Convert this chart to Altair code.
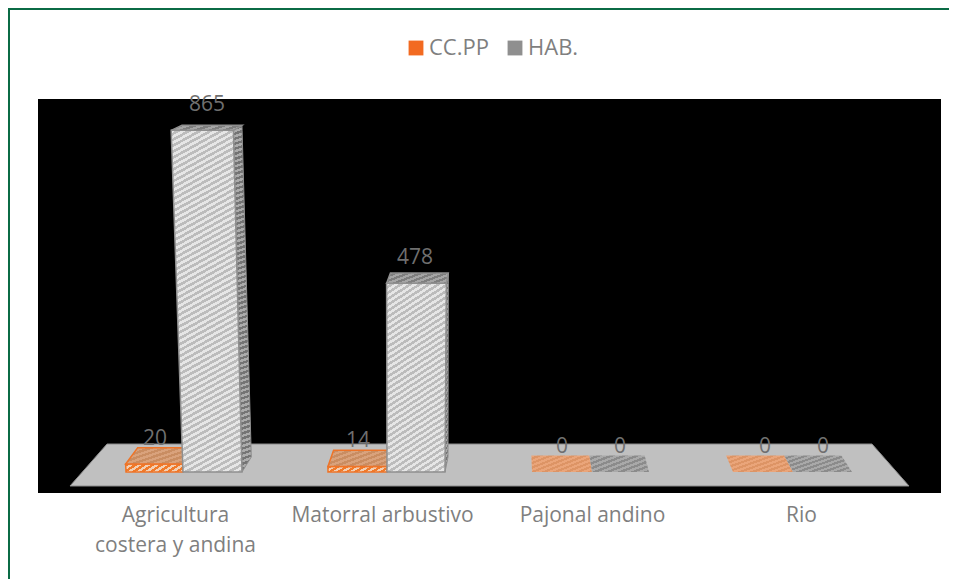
import json
import altair as alt

# ---- chart values ----
categories = ["Agricultura costera y andina", "Matorral arbustivo", "Pajonal andino", "Rio"]
category_lines = [["Agricultura", "costera y andina"], ["Matorral arbustivo"], ["Pajonal andino"], ["Rio"]]
series_names = ["CC.PP", "HAB."]
cc_pp = [20, 14, 0, 0]
hab = [865, 478, 0, 0]

# ---- look of the fake 3-D scene ----
W, H = 903, 394
PAD = dict(left=30, top=91, right=8, bottom=86)
PX_PER_UNIT = 0.395
BASE_PX = 373                # floor line of the bars, from the top of the plot
Y_DOMAIN = [(BASE_PX - H) / PX_PER_UNIT, BASE_PX / PX_PER_UNIT]
slot_edges = [(88, 145, 204), (290, 349, 407), (494, 554, 611), (695, 755, 814)]
tick_x = [137, 344, 554, 763]
label_x = [(117, 169), (320, 377), (524, 582), (727, 785)]
GREY_TEXT = "#7f7f7f"
FRAME = "#0b6b45"

def units(px):
    return px / PX_PER_UNIT

def lean(x, v):
    return (x - 362) * v * 6.3e-5

def depth_px(v):
    return max(4.0, 16.5 - 0.0133 * v)

def back_shift(x):
    return (472 - x) * 0.031

def hatch(c1, c2, w, h, period=6.0, slope=0.6):
    s = slope * w / max(h, 1)
    g = (s + 1) / (s * s + 1)
    n = min(int((s + 1) * h / period) + 1, 150)
    n = max(n, 2)
    stops = []
    for i in range(n):
        a, b = i / n, (i + 0.5) / n
        c = (i + 1) / n
        stops += [dict(color=c1, offset=a), dict(color=c1, offset=b),
                  dict(color=c2, offset=b), dict(color=c2, offset=c)]
    return dict(gradient="linear", x1=0, y1=0, x2=round(s * g, 4), y2=round(g, 4), stops=stops)

def slice_polygon(pts):
    ys = sorted({p[1] for p in pts})
    rows = []
    n = len(pts)
    for y in ys:
        xs = []
        for i in range(n):
            (x0, y0), (x1, y1) = pts[i], pts[(i + 1) % n]
            if y0 == y1:
                if y == y0:
                    xs += [x0, x1]
            elif min(y0, y1) <= y <= max(y0, y1):
                xs.append(x0 + (x1 - x0) * (y - y0) / (y1 - y0))
        rows.append(dict(x=min(xs), x2=max(xs), y=y))
    return rows

x_scale = alt.Scale(domain=[0, W], range=[0, W], nice=False, zero=False)
y_scale = alt.Scale(domain=Y_DOMAIN, nice=False, zero=False)

axis = alt.Axis(values=tick_x, labelExpr="%s[indexof(%s, datum.value)]" % (json.dumps(category_lines), json.dumps(tick_x)),
                domain=False, ticks=False, grid=False, labelFont="Open Sans", labelFontSize=21,
                labelColor=GREY_TEXT, labelAngle=0, labelPadding=11, labelLineHeight=30, labelLimit=400,
                labelOverlap=False, labelFlush=False, labelBound=False, labelAlign="center", labelBaseline="top",
                title=None)

def face(pts, fill, stroke=None, sw=1.0):
    rows = slice_polygon(pts)
    props = dict(orient="horizontal", fill=fill, opacity=1, clip=False)
    if stroke:
        props.update(stroke=stroke, strokeWidth=sw)
    return alt.Chart(alt.Data(values=rows)).mark_area(**props).encode(
        x=alt.X("x:Q", scale=x_scale, axis=axis),
        x2="x2:Q",
        y=alt.Y("y:Q", scale=y_scale, axis=None, title=None, sort=None),
    )

def box(xl, xr, v, front, top, side=None, edge="#8f8f8f", sw=1.5):
    """faces of one bar of value v whose front foot runs from xl to xr"""
    layers = []
    tl, tr = xl + lean(xl, v), xr + lean(xr, v)
    d = units(depth_px(v))
    bl, br = tl + back_shift(tl), tr + back_shift(tr)
    w = max(xr - xl, 1)
    if side is not None and v > 0:
        b0 = xr + back_shift(xr)
        layers.append(face([(tr, v), (br, v + d), (b0 + 1, units(15)), (xr, 0)],
                           hatch(side[0], side[1], 12, v * PX_PER_UNIT, 5, 0.5), edge, 1))
    if v > 0:
        layers.append(face([(xl, 0), (tl, v), (tr, v), (xr, 0)],
                           hatch(front[0], front[1], w + 12, max(v * PX_PER_UNIT, 6), 6, 0.55),
                           edge, sw))
    layers.append(face([(tl, v), (bl, v + d), (br, v + d), (tr, v)],
                       hatch(top[0], top[1], w, depth_px(v), 5, 0.4), edge if v > 0 else None, sw))
    return layers

layers = []

# floor, carrying the category axis
layers.append(face([(32, units(-14)), (69, units(28)), (834, units(28)), (871, units(-14))],
                   "#c0c0c0", "#8a8a8a", 1))

orange = ("#d9a27c", "#c98d62")
orange_front = ("#f07a2a", "#f3cfb3")
flat_orange = ("#eaa57a", "#dd9465")
flat_grey = ("#a9a9a9", "#8b8b8b")
white = ("#e6e6e6", "#bcbcbc")
top_grey = ("#a5a5a5", "#7e7e7e")
side_grey = ("#ababab", "#747474")

for i in range(len(categories)):
    a, m, b = slot_edges[i]
    if cc_pp[i] > 0:
        layers += box(a, m, cc_pp[i], orange_front, orange, edge="#ee7428", sw=1.5)
    else:
        layers += box(a, m, 0, orange, flat_orange)
    if hab[i] > 0:
        layers += box(m, b, hab[i], white, top_grey, side_grey)
    else:
        layers += box(m, b, 0, flat_grey, flat_grey)

# data labels and legend, from the same arrays
rows = []
for i in range(len(categories)):
    rows.append(dict(lx=label_x[i][0], value=cc_pp[i], series=series_names[0]))
    rows.append(dict(lx=label_x[i][1], value=hab[i], series=series_names[1]))
labels = alt.Chart(alt.Data(values=rows))
layers.append(labels.mark_text(font="Open Sans", fontSize=21, color="#6f6f6f", dy=-25, baseline="middle", align="center").encode(
    x=alt.X("lx:Q", scale=x_scale, axis=axis),
    y=alt.Y("value:Q", scale=y_scale, axis=None),
    text="value:Q",
))
layers.append(labels.mark_square(opacity=0, size=1).encode(
    x=alt.X("lx:Q", scale=x_scale, axis=axis),
    y=alt.Y("value:Q", scale=y_scale, axis=None),
    color=alt.Color("series:N", scale=alt.Scale(domain=series_names, range=["#f26a21", "#8f8f8f"]),
                    legend=alt.Legend(orient="none", legendX=367, legendY=-62, direction="horizontal", title=None,
                                      symbolType="square", symbolSize=220, symbolOpacity=1, symbolStrokeWidth=0,
                                      labelFont="Open Sans", labelFontSize=22, labelColor=GREY_TEXT,
                                      labelOffset=2, columnPadding=15)),
))

# outer frame
layers.append(alt.Chart(alt.Data(values=[{"f": 1}])).mark_rule(color=FRAME, strokeWidth=2).encode(
    x=alt.value(-PAD["left"]), x2=alt.value(W + PAD["right"]), y=alt.value(-PAD["top"] + 1)))
layers.append(alt.Chart(alt.Data(values=[{"f": 1}])).mark_rule(color=FRAME, strokeWidth=2).encode(
    x=alt.value(-PAD["left"] + 1), y=alt.value(-PAD["top"]), y2=alt.value(H + PAD["bottom"])))

chart = alt.layer(*layers).properties(
    width=W, height=H, padding=PAD, background="white",
    autosize=alt.AutoSizeParams(type="none", contains="content"),
).configure_view(fill="#000000", strokeWidth=0)

chart.save("out.html", embed_options={"renderer": "svg", "actions": False})
